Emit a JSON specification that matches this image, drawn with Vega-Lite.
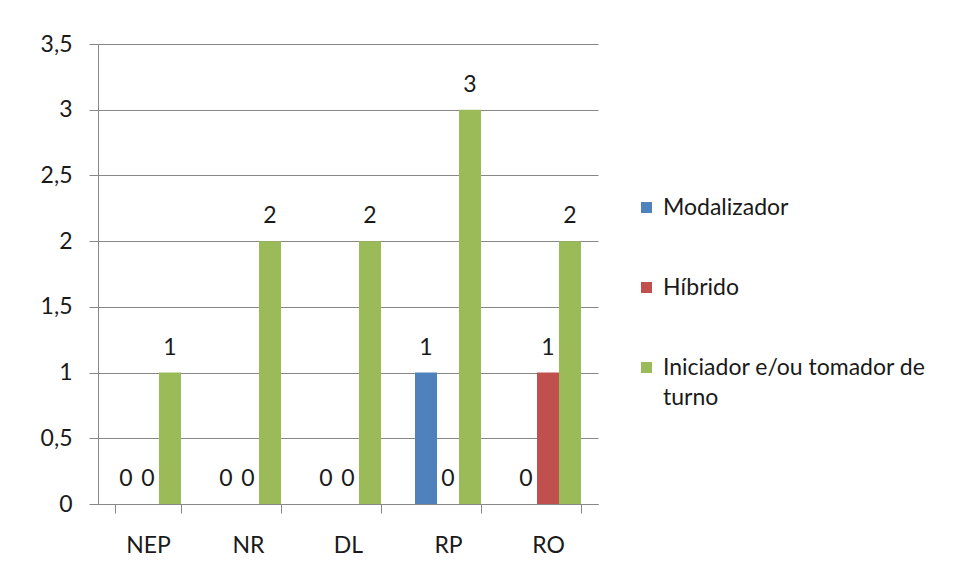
{
  "$schema": "https://vega.github.io/schema/vega-lite/v6.json",
  "width": 500,
  "height": 460,
  "autosize": "none",
  "padding": {"left": 98, "top": 44, "right": 361, "bottom": 79},
  "background": "white",
  "data": {
    "values": [
      {"grupo": "NEP", "tipo": "Modalizador", "valor": 0},
      {"grupo": "NEP", "tipo": "Híbrido", "valor": 0},
      {"grupo": "NEP", "tipo": "Iniciador e/ou tomador de turno", "valor": 1},
      {"grupo": "NR", "tipo": "Modalizador", "valor": 0},
      {"grupo": "NR", "tipo": "Híbrido", "valor": 0},
      {"grupo": "NR", "tipo": "Iniciador e/ou tomador de turno", "valor": 2},
      {"grupo": "DL", "tipo": "Modalizador", "valor": 0},
      {"grupo": "DL", "tipo": "Híbrido", "valor": 0},
      {"grupo": "DL", "tipo": "Iniciador e/ou tomador de turno", "valor": 2},
      {"grupo": "RP", "tipo": "Modalizador", "valor": 1},
      {"grupo": "RP", "tipo": "Híbrido", "valor": 0},
      {"grupo": "RP", "tipo": "Iniciador e/ou tomador de turno", "valor": 3},
      {"grupo": "RO", "tipo": "Modalizador", "valor": 0},
      {"grupo": "RO", "tipo": "Híbrido", "valor": 1},
      {"grupo": "RO", "tipo": "Iniciador e/ou tomador de turno", "valor": 2}
    ]
  },
  "encoding": {
    "x": {
      "field": "grupo",
      "type": "nominal",
      "sort": ["NEP", "NR", "DL", "RP", "RO"],
      "scale": {"paddingInner": 0.34, "paddingOuter": 0.17},
      "axis": {
        "title": null,
        "labelAngle": 0,
        "tickBand": "extent",
        "tickSize": 9,
        "labelPadding": 21,
        "domainColor": "#878787",
        "tickColor": "#878787",
        "labelFontSize": 23,
        "labelFont": "Lato",
        "labelColor": "#1a1a1a"
      }
    },
    "xOffset": {
      "field": "tipo",
      "type": "nominal",
      "sort": ["Modalizador", "Híbrido", "Iniciador e/ou tomador de turno"]
    },
    "y": {
      "field": "valor",
      "type": "quantitative",
      "scale": {"domain": [0, 3.5], "nice": false},
      "axis": {
        "title": null,
        "values": [0, 0.5, 1, 1.5, 2, 2.5, 3, 3.5],
        "labelExpr": "replace(format(datum.value, '~g'), '.', ',')",
        "tickSize": 9,
        "labelPadding": 17,
        "grid": true,
        "gridColor": "#878787",
        "domainColor": "#878787",
        "tickColor": "#878787",
        "labelFontSize": 23,
        "labelFont": "Lato",
        "labelColor": "#1a1a1a"
      }
    },
    "color": {
      "field": "tipo",
      "type": "nominal",
      "sort": ["Modalizador", "Híbrido", "Iniciador e/ou tomador de turno"],
      "scale": {
        "domain": ["Modalizador", "Híbrido", "Iniciador e/ou tomador de turno"],
        "range": ["#4F81BD", "#C0504D", "#9BBB59"]
      },
      "legend": {
        "title": null,
        "orient": "none",
        "legendX": 537,
        "legendY": 152,
        "padding": 0,
        "symbolType": "square",
        "symbolSize": 121,
        "symbolStrokeWidth": 0,
        "labelFontSize": 23,
        "labelFont": "Lato",
        "labelColor": "#1a1a1a",
        "labelOffset": 5,
        "labelLimit": 400,
        "rowPadding": 56,
        "labelExpr": "datum.label == 'Iniciador e/ou tomador de turno' ? ['Iniciador e/ou tomador de', 'turno'] : datum.label",
        "labelBaseline": "alphabetic",
        "encode": {
          "labels": {"update": {"dy": {"value": 7}, "lineHeight": {"value": 30}}}
        }
      }
    }
  },
  "layer": [
    {"mark": {"type": "bar"}},
    {
      "mark": {"type": "text", "baseline": "alphabetic", "dy": -18, "fontSize": 23, "font": "Lato", "color": "#1a1a1a"},
      "encoding": {"text": {"field": "valor", "type": "quantitative"}, "color": {"value": "#1a1a1a"}}
    }
  ],
  "config": {
    "view": {"stroke": null},
    "axis": {"domainWidth": 1, "tickWidth": 1, "gridWidth": 1}
  }
}
